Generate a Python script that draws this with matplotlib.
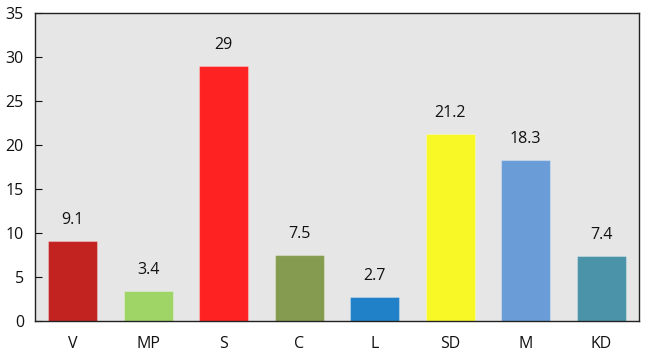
import matplotlib
matplotlib.use("Agg")
import matplotlib.pyplot as plt

categories = ["V", "MP", "S", "C", "L", "SD", "M", "KD"]
values = [9.1, 3.4, 29, 7.5, 2.7, 21.2, 18.3, 7.4]
labels = ["9.1", "3.4", "29", "7.5", "2.7", "21.2", "18.3", "7.4"]
colors = ["#c22220", "#9fd466", "#fe2222", "#859c50", "#2080c8", "#f8f826", "#6a9dd8", "#4a93a8"]
yticks = [0, 5, 10, 15, 20, 25, 30, 35]

plt.rcParams['font.family'] = ['Open Sans', 'DejaVu Sans']
fig = plt.figure(figsize=(6.46, 3.54), dpi=100)
ax = fig.add_axes([35/646, 1 - 321/354, 604/646, 308/354])
ax.set_facecolor("#e6e6e6")
x = range(len(categories))
bars = ax.bar(x, values, width=0.65, color=colors, linewidth=0.8, zorder=2)
for b in bars:
    b.set_edgecolor((1, 1, 1, 0.3))
for i, (v, l) in enumerate(zip(values, labels)):
    ax.text(i, v + 1.5, l, ha="center", va="bottom", fontsize=11.5, color="#111111")
ax.set_xlim(-0.5, len(categories) - 0.5)
ax.set_ylim(0, 35)
ax.set_yticks(yticks)
ax.set_xticks(list(x))
ax.set_xticklabels(categories)
ax.tick_params(axis="y", direction="in", length=5, labelsize=11.5, pad=8, colors="#111111")
ax.tick_params(axis="x", length=0, labelsize=11.5, pad=11, colors="#111111")
for s in ax.spines.values():
    s.set_color("#222222")
    s.set_linewidth(1)
fig.savefig("out.png", dpi=100)
